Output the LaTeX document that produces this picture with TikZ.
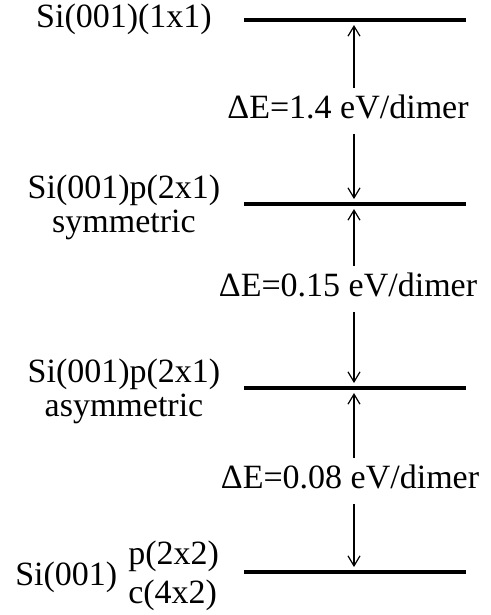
\documentclass[tikz,border=0pt]{standalone}
\usepackage{fontspec}
\setmainfont{Liberation Serif}
\usepackage{tikz}
\usetikzlibrary{positioning, arrows.meta}

\begin{document}
\begin{tikzpicture}[x=0.75pt, y=-0.75pt,
    every node/.style={font=\fontsize{25.5}{25.5}\selectfont},
    levelline/.style={line width=3pt},
    gaparrow/.style={-{Straight Barb[length=7.5pt, width=9pt]}, line width=0.9pt, shorten >=3.75pt},
    elabel/.style={anchor=base, text height=18pt, text depth=7.5pt, inner xsep=0pt, inner ysep=4.5pt},
    slabel/.style={align=center, inner sep=0pt}]
        \useasboundingbox (0, 0) rectangle (490, 615);
        % Energy levels
        \coordinate (lv1) at (354, 20);
        \coordinate (lv2) at (354, 204);
        \coordinate (lv3) at (354, 388);
        \coordinate (lv4) at (354, 572);
        \draw[levelline] (244, 20) -- (466, 20);
        \draw[levelline] (244, 204) -- (466, 204);
        \draw[levelline] (244, 388) -- (466, 388);
        \draw[levelline] (244, 572) -- (466, 572);
        % Surface labels
        \node[slabel, anchor=base] (sym1) at (124, 27) {Si(001)(1x1)};
        \node[slabel] (sym2) at (124, 207) {Si(001)p(2x1)\\symmetric};
        \node[slabel] (asym) at (124, 391) {Si(001)p(2x1)\\asymmetric};
        \node[slabel, anchor=base west] (si4) at (15, 585) {Si(001)};
        \node[slabel, anchor=base west] (p22) at (128, 564) {p(2x2)};
        \node[slabel, anchor=base west] (c42) at (128, 603) {c(4x2)};
        % Energy differences
        \node[elabel] (dE1) at (348, 118) {ΔE=1.4 eV/dimer};
        \node[elabel] (dE2) at (348, 296) {ΔE=0.15 eV/dimer};
        \node[elabel] (dE3) at (350, 488) {ΔE=0.08 eV/dimer};
        % Arrows between levels
        \draw[gaparrow] (dE1.north -| lv1) -- (lv1);
        \draw[gaparrow] (dE1.south -| lv2) -- (lv2);
        \draw[gaparrow] (dE2.north -| lv2) -- (lv2);
        \draw[gaparrow] (dE2.south -| lv3) -- (lv3);
        \draw[gaparrow] (dE3.north -| lv3) -- (lv3);
        \draw[gaparrow] (dE3.south -| lv4) -- (lv4);
\end{tikzpicture}
\end{document}
